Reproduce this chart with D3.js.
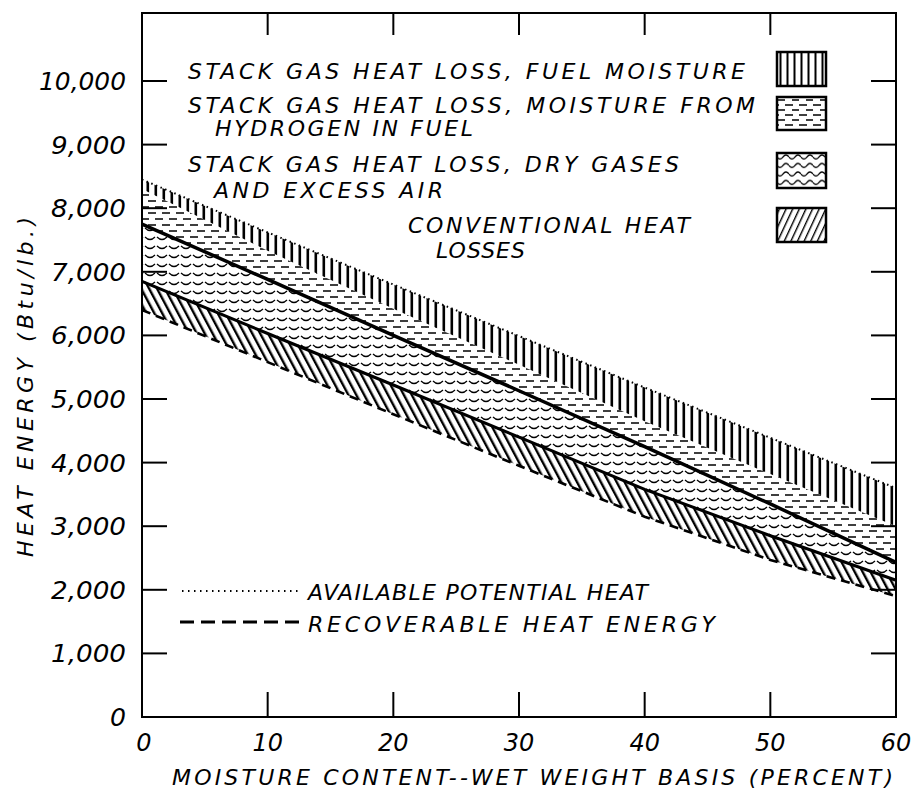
<!DOCTYPE html>
<html>
<head>
<meta charset="utf-8">
<script src="https://cdn.jsdelivr.net/npm/d3@7"></script>
<style>
html,body{margin:0;padding:0;background:#fff;}
text{font-family:"DejaVu Sans",sans-serif;font-style:italic;fill:#000;}
</style>
</head>
<body>
<svg id="chart" width="914" height="794"></svg>
<script>
// ---- data ----
const moisture = [0, 10, 20, 30, 40, 50, 60];
const availableHeat     = [8450, 7620, 6800, 5990, 5180, 4390, 3600];
const fuelMoistureLower = [8300, 7330, 6420, 5540, 4650, 3820, 3000];
const hydrogenLower     = [7750, 6880, 6000, 5130, 4250, 3350, 2430];
const dryGasLower       = [6850, 6030, 5220, 4400, 3580, 2850, 2150];
const recoverableHeat   = [6400, 5580, 4760, 3950, 3150, 2470, 1900];

const yTicks = [0,1000,2000,3000,4000,5000,6000,7000,8000,9000,10000];
const yTickLabels = ["0","1,000","2,000","3,000","4,000","5,000","6,000","7,000","8,000","9,000","10,000"];
const xTicks = [0,10,20,30,40,50,60];
const xTickLabels = ["0","10","20","30","40","50","60"];

const legendLines = [
  "STACK GAS HEAT LOSS, FUEL MOISTURE",
  "STACK GAS HEAT LOSS, MOISTURE FROM",
  "HYDROGEN IN FUEL",
  "STACK GAS HEAT LOSS, DRY GASES",
  "AND EXCESS AIR",
  "CONVENTIONAL HEAT",
  "LOSSES"
];
const lineLegend = ["AVAILABLE POTENTIAL HEAT", "RECOVERABLE  HEAT  ENERGY"];
const xTitle = "MOISTURE CONTENT--WET WEIGHT BASIS (PERCENT)";
const yTitle = "HEAT ENERGY (Btu/lb.)";

// ---- layout ----
const L = 142, R = 896, T = 13, B = 717;
const x = d3.scaleLinear().domain([0, 60]).range([L, R]);
const y = d3.scaleLinear().domain([0, 10000]).range([B, 81]);

const svg = d3.select("#chart");
svg.append("rect").attr("width", 914).attr("height", 794).attr("fill", "#fff");
const defs = svg.append("defs");

// patterns
function pat(id, w, h, draw, transform) {
  const p = defs.append("pattern").attr("id", id).attr("patternUnits", "userSpaceOnUse")
    .attr("width", w).attr("height", h);
  if (transform) p.attr("patternTransform", transform);
  draw(p);
}
pat("pVert", 8, 20, p => p.append("rect").attr("x", 2.5).attr("y", 0).attr("width", 2.6).attr("height", 20).attr("fill", "#000"));
pat("pDash", 14, 12, p => p.append("path").attr("d", "M1,3H9M8,9H14M0,9H2").attr("stroke", "#000").attr("stroke-width", 1.4).attr("fill", "none"));
pat("pWave", 12, 9, p => p.append("path").attr("d", "M1,3Q6,8 11,3").attr("stroke", "#000").attr("stroke-width", 1.2).attr("fill", "none"));
pat("pDiag", 7, 20, p => p.append("rect").attr("x", 2).attr("y", 0).attr("width", 2.4).attr("height", 20).attr("fill", "#000"), "rotate(-28)");
// legend swatch patterns
pat("sVert", 7, 20, p => p.append("rect").attr("x", 2.5).attr("y", 0).attr("width", 2).attr("height", 20).attr("fill", "#000"), "translate(777,0)");
pat("sDash", 14, 10, p => p.append("path").attr("d", "M1,3H8M8,8H14M0,8H2").attr("stroke", "#000").attr("stroke-width", 1.3).attr("fill", "none"), "translate(777,97)");
pat("sWave", 12, 8.5, p => p.append("path").attr("d", "M0,3Q3,7 6,3Q9,-1 12,3").attr("stroke", "#000").attr("stroke-width", 1.3).attr("fill", "none"), "translate(777,154)");
pat("sDiag", 6, 20, p => p.append("rect").attr("x", 2).attr("y", 0).attr("width", 1.4).attr("height", 20).attr("fill", "#000"), "rotate(25)");

// ---- bands ----
const pts = arr => arr.map((v, i) => ({ m: moisture[i], v }));
const bands = [
  { upper: availableHeat, lower: fuelMoistureLower, fill: "url(#pVert)" },
  { upper: fuelMoistureLower, lower: hydrogenLower, fill: "url(#pDash)" },
  { upper: hydrogenLower, lower: dryGasLower, fill: "url(#pWave)" },
  { upper: dryGasLower, lower: recoverableHeat, fill: "url(#pDiag)" }
];
bands.forEach((b, i) => {
  const area = d3.area().x((d, j) => x(moisture[j])).y0((d, j) => y(b.lower[j])).y1(d => y(d));
  svg.append("path").attr("d", area(b.upper)).attr("fill", b.fill);
});

const line = d3.line().x((d, j) => x(moisture[j])).y(d => y(d));
svg.append("path").attr("d", line(availableHeat)).attr("fill", "none").attr("stroke", "#000")
  .attr("stroke-width", 2).attr("stroke-dasharray", "1.5,3.5");
svg.append("path").attr("d", line(hydrogenLower)).attr("fill", "none").attr("stroke", "#000").attr("stroke-width", 3.5);
svg.append("path").attr("d", line(dryGasLower)).attr("fill", "none").attr("stroke", "#000").attr("stroke-width", 3);
svg.append("path").attr("d", line(recoverableHeat)).attr("fill", "none").attr("stroke", "#000")
  .attr("stroke-width", 2.6).attr("stroke-dasharray", "9,6");

// ---- frame and ticks ----
svg.append("rect").attr("x", L).attr("y", T).attr("width", R - L).attr("height", B - T)
  .attr("fill", "none").attr("stroke", "#000").attr("stroke-width", 2);
const tk = svg.append("g").attr("stroke", "#000").attr("stroke-width", 2);
yTicks.slice(1).forEach(v => {
  tk.append("line").attr("x1", L).attr("x2", L + 25).attr("y1", y(v)).attr("y2", y(v));
  tk.append("line").attr("x1", R - 25).attr("x2", R).attr("y1", y(v)).attr("y2", y(v));
});
xTicks.slice(1, -1).forEach(v => {
  tk.append("line").attr("x1", x(v)).attr("x2", x(v)).attr("y1", T).attr("y2", T + 22);
  tk.append("line").attr("x1", x(v)).attr("x2", x(v)).attr("y1", B - 25).attr("y2", B);
});

// tick labels
yTicks.forEach((v, i) => {
  const lab = yTickLabels[i];
  const w = lab.length === 1 ? 16 : (lab.length === 6 ? 87 : 75);
  svg.append("text").attr("x", 126 - w).attr("y", y(v) + 9).attr("font-size", 24)
    .attr("textLength", w).attr("lengthAdjust", "spacingAndGlyphs").text(lab);
});
xTicks.forEach((v, i) => {
  svg.append("text").attr("x", x(v) + (v === 0 ? 2 : 0)).attr("y", 751).attr("font-size", 24)
    .attr("text-anchor", "middle").text(xTickLabels[i]);
});

// axis titles
svg.append("text").attr("x", 172).attr("y", 785).attr("font-size", 22)
  .attr("textLength", 721).attr("lengthAdjust", "spacing").text(xTitle);
svg.append("text").attr("transform", "translate(33,557) rotate(-90)").attr("font-size", 22)
  .attr("textLength", 340).attr("lengthAdjust", "spacing").text(yTitle);

// ---- legend (areas) ----
const legPos = [
  [188, 79, 557], [188, 113, 567], [215, 136, 258], [188, 172, 491],
  [214, 198, 229], [408, 233, 282], [436, 258, 89]
];
legendLines.forEach((t, i) => {
  const [lx, ly, lw] = legPos[i];
  svg.append("text").attr("x", lx).attr("y", ly).attr("font-size", 22)
    .attr("textLength", lw).attr("lengthAdjust", "spacing").text(t);
});
const swatches = [
  { y: 52, h: 34, fill: "url(#sVert)" },
  { y: 97, h: 33, fill: "url(#sDash)" },
  { y: 153, h: 35, fill: "url(#sWave)" },
  { y: 208, h: 34, fill: "url(#sDiag)" }
];
swatches.forEach(s => {
  svg.append("rect").attr("x", 777).attr("y", s.y).attr("width", 49).attr("height", s.h)
    .attr("fill", "#fff");
  svg.append("rect").attr("x", 777).attr("y", s.y).attr("width", 49).attr("height", s.h)
    .attr("fill", s.fill).attr("stroke", "#000").attr("stroke-width", 2.5);
});

// ---- legend (lines) ----
svg.append("line").attr("x1", 182).attr("x2", 300).attr("y1", 591).attr("y2", 591)
  .attr("stroke", "#000").attr("stroke-width", 2).attr("stroke-dasharray", "1.5,4.5");
svg.append("line").attr("x1", 180).attr("x2", 300).attr("y1", 622).attr("y2", 622)
  .attr("stroke", "#000").attr("stroke-width", 3).attr("stroke-dasharray", "14,7");
svg.append("text").attr("x", 308).attr("y", 600).attr("font-size", 22)
  .attr("textLength", 340).attr("lengthAdjust", "spacing").text(lineLegend[0]);
svg.append("text").attr("x", 308).attr("y", 632).attr("font-size", 22)
  .attr("textLength", 407).attr("lengthAdjust", "spacing").text(lineLegend[1]);
</script>
</body>
</html>
